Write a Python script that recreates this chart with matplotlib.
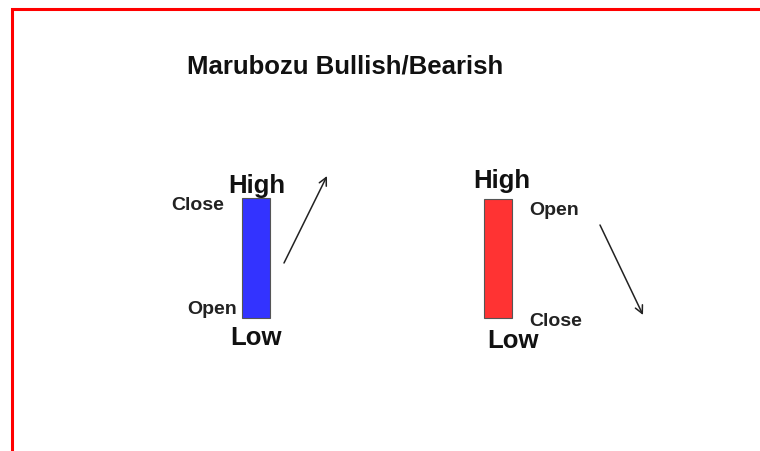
import matplotlib
matplotlib.use("Agg")
import matplotlib.pyplot as plt
from matplotlib.patches import Rectangle
from matplotlib.lines import Line2D

plt.rcParams['font.family'] = ['Liberation Sans', 'DejaVu Sans']

# canvas in pixel-like units, y counted upward from the bottom
W, H = 760, 452

title = "Marubozu Bullish/Bearish"

# two candles: bullish (blue) and bearish (red)
candle_x = [256, 498]
candle_open = [133, 252]
candle_close = [253, 133]
candle_high = [253, 252]
candle_low = [133, 133]
candle_colors = ["#3333ff", "#ff3333"]
candle_width = 28

# trend arrows (start, end)
arrow_start = [(284, 188), (600, 226)]
arrow_end = [(327, 275), (643, 136)]

fig = plt.figure(figsize=(W / 100, H / 100), dpi=100)
ax = fig.add_axes([0, 0, 1, 1])
ax.set_xlim(0, W)
ax.set_ylim(0, H)
ax.axis("off")

# red frame on top and left
ax.add_line(Line2D([12, 12, W], [0, H - 10, H - 10], color="#ff0000", lw=2.2,
                   solid_joinstyle="miter"))

ax.text(187, H - 73, title, fontsize=18.5, fontweight="bold", color="#111111",
        ha="left", va="baseline")

for x, o, c, col in zip(candle_x, candle_open, candle_close, candle_colors):
    bottom = min(o, c)
    ax.add_patch(Rectangle((x - candle_width / 2, bottom), candle_width, abs(c - o),
                           facecolor=col, edgecolor="#555555", lw=0.8))

for s, e in zip(arrow_start, arrow_end):
    ax.annotate("", xy=e, xytext=s,
                arrowprops=dict(arrowstyle="->", color="#222222", lw=1.1,
                                mutation_scale=14, shrinkA=0, shrinkB=0))

big = dict(fontsize=18.5, fontweight="bold", color="#111111", va="baseline")
small = dict(fontsize=14, fontweight="bold", color="#222222", va="baseline")

# bullish labels
ax.text(228, H - 193, "High", ha="left", **big)
ax.text(230, H - 345, "Low", ha="left", **big)
ax.text(224, H - 210, "Close", ha="right", **small)
ax.text(237, H - 314, "Open", ha="right", **small)

# bearish labels
ax.text(473, H - 188, "High", ha="left", **big)
ax.text(487, H - 348, "Low", ha="left", **big)
ax.text(529, H - 215, "Open", ha="left", **small)
ax.text(529, H - 326, "Close", ha="left", **small)

fig.savefig("out.png", dpi=100, facecolor="white")
